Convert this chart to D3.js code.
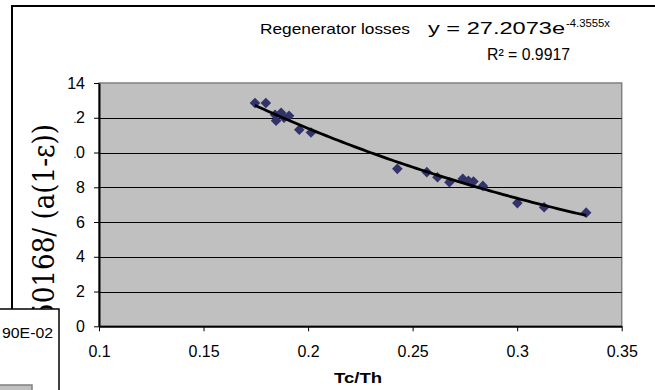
<!DOCTYPE html>
<html>
<head>
<meta charset="utf-8">
<script src="https://cdn.jsdelivr.net/npm/d3@7"></script>
<style>
  html, body { margin: 0; padding: 0; background: #fff; }
  svg { display: block; font-family: Arial, "Liberation Sans", sans-serif; }
</style>
</head>
<body>
<div id="chart"></div>
<script>
// data
const tcTh = [0.1746, 0.1798, 0.1842, 0.1847, 0.1871, 0.1885, 0.1909, 0.1958, 0.2014,
  0.2427, 0.2568, 0.2619, 0.2676, 0.2740, 0.2767, 0.2791, 0.2836, 0.3001, 0.3129, 0.3330];
const lossRatio = [12.85, 12.85, 12.17, 11.83, 12.29, 12.00, 12.11, 11.31, 11.15,
  9.06, 8.87, 8.58, 8.29, 8.49, 8.37, 8.33, 8.08, 7.09, 6.85, 6.54];
const xTicks = [0.1, 0.15, 0.2, 0.25, 0.3, 0.35];
const yTicks = [0, 2, 4, 6, 8, 10, 12, 14];
// exponential trendline y = a * e^(b x)
const fitA = 27.2073;
const fitB = -4.3555;
const fitR2 = 0.9917;

const width = 655, height = 390;
const svg = d3.select('#chart').append('svg')
  .attr('width', width)
  .attr('height', height);

const x = d3.scaleLinear().domain([0.1, 0.35]).range([99, 621.7]);
const y = d3.scaleLinear().domain([0, 14]).range([326.3, 83]);

// chart area border (runs off the right / bottom)
svg.append('rect')
  .attr('x', 12).attr('y', 6)
  .attr('width', 700).attr('height', 420)
  .attr('fill', '#fff')
  .attr('stroke', '#000')
  .attr('stroke-width', 2);

// plot area
svg.append('rect')
  .attr('x', x(0.1)).attr('y', y(14))
  .attr('width', x(0.35) - x(0.1))
  .attr('height', y(0) - y(14))
  .attr('fill', '#c0c0c0')
  .attr('stroke', '#808080')
  .attr('stroke-width', 1.5);

// gridlines
svg.append('g')
  .selectAll('line')
  .data(yTicks.filter(d => d > 0 && d < 14))
  .join('line')
  .attr('x1', x(0.1)).attr('x2', x(0.35))
  .attr('y1', d => Math.round(y(d)) + 0.5)
  .attr('y2', d => Math.round(y(d)) + 0.5)
  .attr('stroke', '#000')
  .attr('stroke-width', 1);

// axes
const yAxis = svg.append('g')
  .attr('transform', `translate(${x(0.1)},0)`)
  .call(d3.axisLeft(y).tickValues(yTicks).tickSize(5).tickSizeOuter(0).tickPadding(9));
const xAxis = svg.append('g')
  .attr('transform', `translate(0,${y(0)})`)
  .call(d3.axisBottom(x).tickValues(xTicks).tickFormat(d3.format('')).tickSize(5).tickSizeOuter(0).tickPadding(14));

[yAxis, xAxis].forEach(g => {
  g.select('.domain').attr('stroke', '#000').attr('stroke-width', 2);
  g.selectAll('.tick line').attr('stroke', '#000').attr('stroke-width', 1);
  g.selectAll('.tick text')
    .attr('fill', '#000')
    .style('font-size', '16px')
    .style('font-family', 'Arial, "Liberation Sans", sans-serif');
});

// trendline
const fitX = d3.range(0, 81).map(i => tcTh[0] + (tcTh[tcTh.length - 1] - tcTh[0]) * i / 80);
const line = d3.line()
  .x(d => x(d))
  .y(d => y(fitA * Math.exp(fitB * d)));

// markers
const pts = tcTh.map((v, i) => [v, lossRatio[i]]);
svg.append('g')
  .selectAll('path')
  .data(pts)
  .join('path')
  .attr('d', d => {
    const cx = x(d[0]), cy = y(d[1]), r = 5.3;
    return `M${cx},${cy - r}L${cx + r},${cy}L${cx},${cy + r}L${cx - r},${cy}Z`;
  })
  .attr('fill', '#33336b');

svg.append('path')
  .datum(fitX)
  .attr('d', line)
  .attr('fill', 'none')
  .attr('stroke', '#000')
  .attr('stroke-width', 2.8);

// y axis title box (covers the leading digits of some tick labels)
svg.append('rect')
  .attr('x', 14).attr('y', 93)
  .attr('width', 60.5).attr('height', 216)
  .attr('fill', '#fff');

svg.append('text')
  .attr('transform', 'translate(54,124) rotate(-90)')
  .attr('text-anchor', 'end')
  .attr('textLength', 196)
  .attr('lengthAdjust', 'spacingAndGlyphs')
  .style('font-family', '"DejaVu Serif", "Liberation Serif", "Noto Serif", serif')
  .style('font-size', '30px')
  .text('50168/ (a(1-ε))');

// title and fit equation (the reference fonts are drawn wide)
svg.append('text')
  .attr('x', 260).attr('y', 34)
  .attr('textLength', 150)
  .attr('lengthAdjust', 'spacingAndGlyphs')
  .style('font-size', '15px')
  .text('Regenerator losses');

svg.append('text')
  .attr('x', 428).attr('y', 34)
  .attr('textLength', 137)
  .attr('lengthAdjust', 'spacingAndGlyphs')
  .style('font-size', '16px')
  .text('y = ' + fitA + 'e');
svg.append('text')
  .attr('x', 566).attr('y', 27)
  .attr('textLength', 44)
  .attr('lengthAdjust', 'spacingAndGlyphs')
  .style('font-size', '10px')
  .text(fitB + 'x');

svg.append('text')
  .attr('x', 487).attr('y', 60)
  .attr('textLength', 83)
  .attr('lengthAdjust', 'spacingAndGlyphs')
  .style('font-size', '16px')
  .text('R² = ' + fitR2);

// x axis title
svg.append('text')
  .attr('x', 334).attr('y', 383)
  .attr('textLength', 48)
  .attr('lengthAdjust', 'spacingAndGlyphs')
  .style('font-size', '14px')
  .style('font-weight', 'bold')
  .text('Tc/Th');

// overlapping box at bottom left
svg.append('rect')
  .attr('x', -10).attr('y', 309)
  .attr('width', 69).attr('height', 100)
  .attr('fill', '#fff')
  .attr('stroke', '#000')
  .attr('stroke-width', 1.5);
svg.append('text')
  .attr('x', 2).attr('y', 338)
  .attr('textLength', 51)
  .attr('lengthAdjust', 'spacingAndGlyphs')
  .style('font-size', '15px')
  .text('90E-02');
svg.append('rect')
  .attr('x', -10).attr('y', 385)
  .attr('width', 42).attr('height', 20)
  .attr('fill', '#c0c0c0')
  .attr('stroke', '#808080')
  .attr('stroke-width', 1.5);
</script>
</body>
</html>
